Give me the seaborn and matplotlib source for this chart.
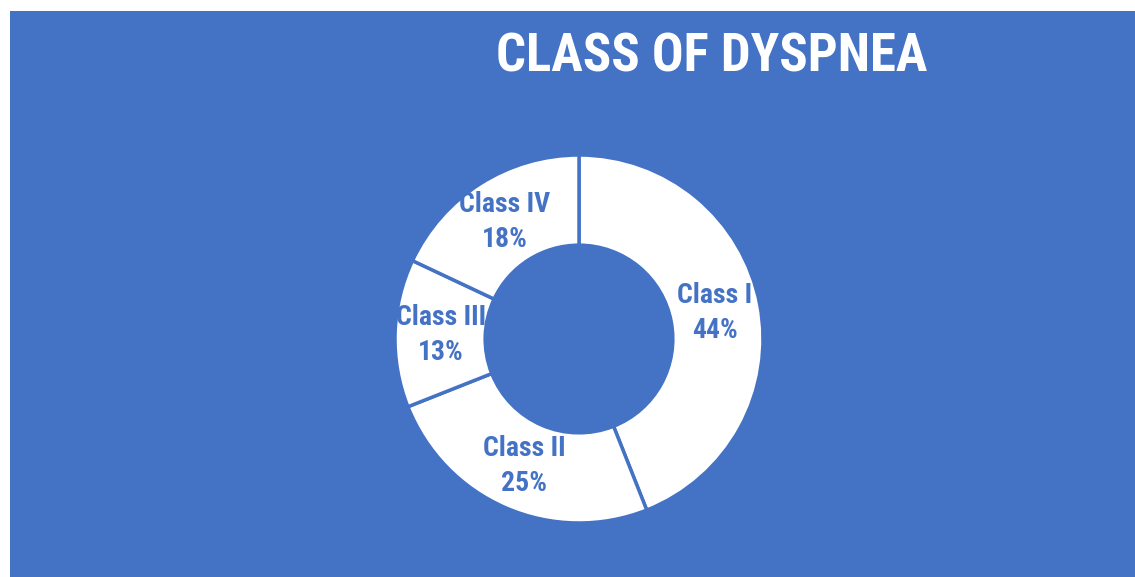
import matplotlib
matplotlib.use("Agg")
import matplotlib.pyplot as plt
from matplotlib import font_manager
from matplotlib.patches import Rectangle
import seaborn as sns

# dados do grafico
classes = ["Class I", "Class II", "Class III", "Class IV"]
percentuais = [44, 25, 13, 18]
titulo = "CLASS OF DYSPNEA"

AZUL = "#4472C4"

sns.set_theme(style="white")

# escolher uma fonte estreita, se houver
disponiveis = {f.name for f in font_manager.fontManager.ttflist}
preferidas = ["Liberation Sans Narrow", "Roboto Condensed", "Open Sans Condensed",
              "DejaVu Sans Condensed", "Liberation Sans"]
fonte = next((f for f in preferidas if f in disponiveis), "DejaVu Sans")
plt.rcParams["font.family"] = [fonte, "DejaVu Sans"]
plt.rcParams["font.stretch"] = "condensed"

W, H = 1135, 577
fig = plt.figure(figsize=(W / 100, H / 100), dpi=100)
fig.patch.set_facecolor("white")

# fundo azul (borda branca em cima e na esquerda)
esq, topo = 10, 11
fig.patches.append(Rectangle((esq / W, 0), 1 - esq / W, 1 - topo / H,
                             transform=fig.transFigure, facecolor=AZUL,
                             edgecolor="none", zorder=0))

ax = fig.add_axes([esq / W, 0, 1 - esq / W, 1 - topo / H])
ax.set_zorder(2)
ax.patch.set_alpha(0)

raio_px = 184
cx, cy = 579 - esq, H - 339  # centro em pixels dentro do eixo
aw, ah = W - esq, H - topo

rotulos = [f"{c}\n{p}%" for c, p in zip(classes, percentuais)]
wedges, textos = ax.pie(
    percentuais,
    startangle=90,
    counterclock=False,
    colors=["white"] * len(percentuais),
    labels=rotulos,
    labeldistance=0.75,
    wedgeprops=dict(width=0.49, edgecolor=AZUL, linewidth=2.5),
    textprops=dict(color=AZUL, fontsize=20, fontweight="bold",
                   linespacing=1.38),
)
for t in textos:
    t.set_horizontalalignment("center")
    t.set_verticalalignment("center")

ax.set_xlim(-cx / raio_px, (aw - cx) / raio_px)
ax.set_ylim(-cy / raio_px, (ah - cy) / raio_px)
ax.set_aspect("equal", adjustable="datalim")
ax.axis("off")

fig.text(712 / W, 1 - 57 / H, titulo, color="white", fontsize=38,
         fontweight="bold", ha="center", va="center", zorder=3)

fig.savefig("out.png", dpi=100, facecolor=fig.get_facecolor())
